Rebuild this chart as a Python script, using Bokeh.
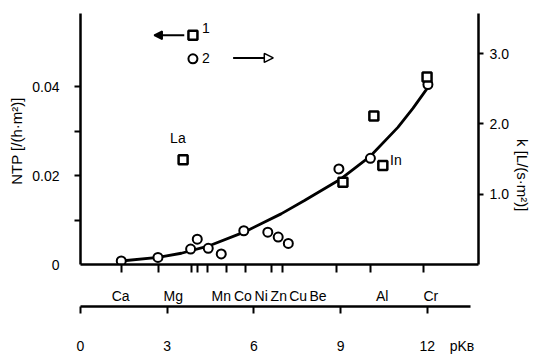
import math
from bokeh.plotting import figure
from bokeh.models import Range1d, LinearAxis, FixedTicker, Label, Arrow, NormalHead
from bokeh.embed import file_html
from bokeh.resources import INLINE

# ---- data ----
# series 1 (squares, left axis NTP)
ntp_pk = [3.55, 9.08, 10.15, 10.46, 11.99]
ntp_val = [0.0236, 0.0185, 0.0334, 0.0223, 0.0422]
# series 2 (circles, right axis k)
k_pk = [1.41, 2.68, 3.81, 4.04, 4.42, 4.87, 5.65, 6.48, 6.84, 7.19, 8.94, 10.03, 12.02]
k_val = [0.05, 0.10, 0.22, 0.36, 0.23, 0.15, 0.48, 0.46, 0.39, 0.30, 1.36, 1.51, 2.56]
# fitted curve (k)
curve_pk = [1.41, 2.68, 3.49, 4.41, 5.66, 6.94, 7.75, 9.02, 10.0, 10.98, 11.5, 12.02]
curve_k = [0.05, 0.10, 0.16, 0.26, 0.46, 0.72, 0.91, 1.22, 1.53, 1.95, 2.22, 2.52]
# cation axis
cation_names = ["Ca", "Mg", "Mn", "Co", "Ni", "Zn", "Cu", "Be", "Al", "Cr"]
cation_label_pk = [1.39, 3.21, 4.87, 5.62, 6.25, 6.86, 7.53, 8.22, 10.44, 12.12]
cation_tick_pk = [1.41, 2.71, 3.83, 4.04, 4.41, 5.04, 5.71, 6.6, 7.0, 8.85, 10.03, 11.85]
# tick labels
pk_ticks = [0, 3, 6, 9, 12]
pk_labels = ["0", "3", "6", "9", "12"]
pk_unit_pos = 13.2
pk_unit = "pKʙ"
ntp_label_ticks = [0, 0.02, 0.04]
ntp_tick_labels = ["0", "0.02", "0.04"]
ntp_ticks = [0.01, 0.02, 0.03, 0.04]
k_ticks = [1, 2, 3]
k_tick_labels = ["1.0", "2.0", "3.0"]

FONT = "Liberation Sans"
FS = "14px"
BLACK = "black"

p = figure(frame_width=398, frame_height=251,
           x_range=Range1d(0, 13.77), y_range=Range1d(0, 0.0565),
           output_backend="svg", toolbar_location=None,
           min_border_left=80, min_border_right=70, min_border_top=13, min_border_bottom=0)
p.outline_line_color = None
p.xgrid.visible = False
p.ygrid.visible = False
p.background_fill_color = "white"


def style(ax):
    ax.axis_line_color = BLACK
    ax.major_tick_line_color = BLACK
    ax.major_label_text_color = BLACK
    ax.axis_label_text_color = BLACK
    ax.major_label_text_font = FONT
    ax.major_label_text_font_size = FS
    ax.axis_label_text_font = FONT
    ax.axis_label_text_font_style = "normal"


# left axis (major ticks = labels only, minor ticks = drawn marks)
ya = p.yaxis[0]
style(ya)
ya.ticker = FixedTicker(ticks=ntp_label_ticks, minor_ticks=ntp_ticks)
ya.major_label_overrides = {t: l for t, l in zip(ntp_label_ticks, ntp_tick_labels)}
ya.axis_label = "NTP  [/(h·m²)]"
ya.axis_label_text_font_size = "15px"
ya.axis_label_standoff = 4
ya.major_label_standoff = 15
ya.major_tick_out = 6
ya.major_tick_in = 0
ya.major_tick_line_color = None
ya.minor_tick_out = 6
ya.minor_tick_in = 0
ya.minor_tick_line_width = 2
ya.minor_tick_line_color = BLACK
ya.axis_line_width = 2.5

# right axis (k)
p.extra_y_ranges = {"k": Range1d(0, 3.57)}
ka = LinearAxis(y_range_name="k")
style(ka)
ka.ticker = FixedTicker(ticks=k_ticks, minor_ticks=[])
ka.major_label_overrides = {t: l for t, l in zip(k_ticks, k_tick_labels)}
ka.axis_label = "k [L/(s·m²)]"
ka.axis_label_text_font_size = "15px"
ka.axis_label_orientation = -math.pi / 2
ka.axis_label_standoff = 11
ka.major_label_standoff = 6
ka.major_tick_out = 5
ka.major_tick_in = 0
ka.major_tick_line_width = 2
ka.axis_line_width = 2.5
p.add_layout(ka, "right")

# bottom cation axis: minor ticks = tick marks, major ticks = labels
xa = p.xaxis[0]
style(xa)
xa.ticker = FixedTicker(ticks=cation_label_pk, minor_ticks=cation_tick_pk)
xa.major_label_overrides = {t: l for t, l in zip(cation_label_pk, cation_names)}
xa.major_tick_line_color = None
xa.major_tick_out = 8
xa.major_tick_in = 0
xa.minor_tick_out = 8
xa.minor_tick_in = 0
xa.minor_tick_line_width = 2
xa.minor_tick_line_color = BLACK
xa.axis_line_width = 2.5
xa.major_label_standoff = 15

# spacer between the two bottom scales
sp = LinearAxis(ticker=FixedTicker(ticks=[], minor_ticks=[]))
sp.axis_line_color = None
sp.major_tick_line_color = None
sp.minor_tick_line_color = None
sp.major_tick_out = 23
sp.minor_tick_out = 0
p.add_layout(sp, "below")

# pK axis
pa = LinearAxis(ticker=FixedTicker(ticks=pk_ticks + [pk_unit_pos], minor_ticks=pk_ticks))
style(pa)
pa.major_label_overrides = dict(zip(pk_ticks + [pk_unit_pos], pk_labels + [pk_unit]))
pa.bounds = (0, 13.48)
pa.axis_line_width = 2.5
pa.major_tick_out = 7
pa.major_tick_in = 0
pa.major_tick_line_color = None
pa.minor_tick_out = 7
pa.minor_tick_in = 0
pa.minor_tick_line_width = 2
pa.minor_tick_line_color = BLACK
pa.major_label_standoff = 24
p.add_layout(pa, "below")

# curve and points
p.line(curve_pk, curve_k, y_range_name="k", line_color=BLACK, line_width=2.8)
p.scatter(k_pk, k_val, y_range_name="k", marker="circle", size=9,
          fill_color="white", line_color=BLACK, line_width=2)
p.scatter(ntp_pk, ntp_val, marker="square", size=9,
          fill_color="white", line_color=BLACK, line_width=2.5)

# legend-like markers with arrows
p.scatter([3.89], [0.0516], marker="square", size=9, fill_color="white",
          line_color=BLACK, line_width=2.5)
p.scatter([3.89], [0.0463], marker="circle", size=9, fill_color="white",
          line_color=BLACK, line_width=2)
p.add_layout(Label(x=4.2, y=0.0532, text="1", text_font=FONT, text_font_size=FS,
                   text_color=BLACK, text_baseline="middle"))
p.add_layout(Label(x=4.2, y=0.0465, text="2", text_font=FONT, text_font_size=FS,
                   text_color=BLACK, text_baseline="middle"))
p.add_layout(Arrow(x_start=3.59, y_start=0.0516, x_end=2.55, y_end=0.0516,
                   line_width=2, line_color=BLACK,
                   end=NormalHead(size=8, fill_color=BLACK, line_width=1.5)))
p.add_layout(Arrow(x_start=5.28, y_start=0.0465, x_end=6.67, y_end=0.0465,
                   line_width=2, line_color=BLACK,
                   end=NormalHead(size=9, fill_color="white", line_width=1.5)))

# point annotations
p.add_layout(Label(x=3.37, y=0.0284, text="La", text_font=FONT, text_font_size=FS,
                   text_color=BLACK, text_align="center", text_baseline="middle"))
p.add_layout(Label(x=10.71, y=0.0236, text="In", text_font=FONT, text_font_size=FS,
                   text_color=BLACK, text_align="left", text_baseline="middle"))

open("out.html", "w").write(file_html(p, INLINE))
